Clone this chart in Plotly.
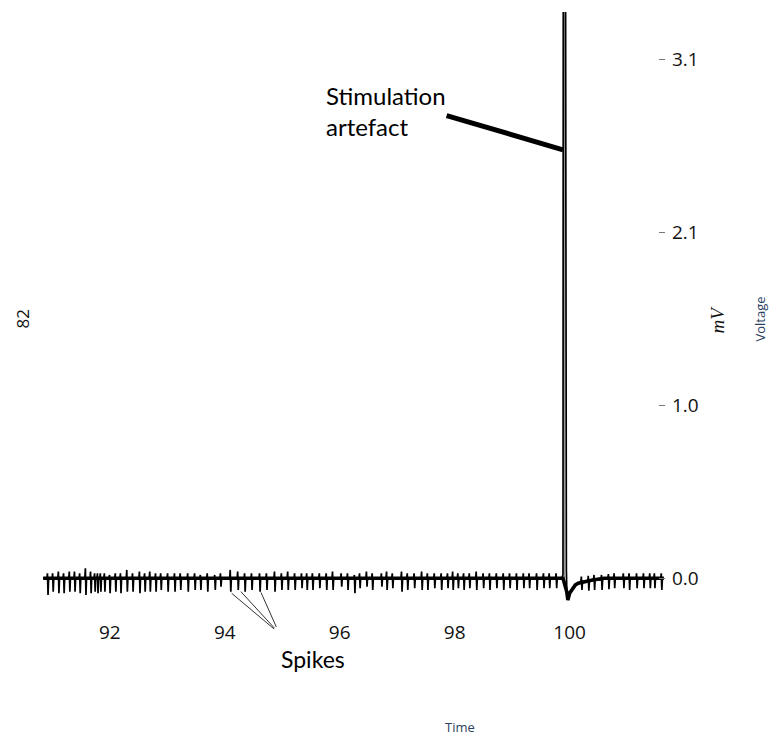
import plotly.graph_objects as go

# ---- data ----
spike_times = [
    90.92, 91.01, 91.11, 91.20, 91.30, 91.39, 91.48, 91.58, 91.67, 91.74,
    91.79, 91.84, 91.91, 92.00, 92.10, 92.19, 92.30, 92.40, 92.52, 92.61,
    92.70, 92.80, 92.89, 93.01, 93.13, 93.23, 93.36, 93.48, 93.58, 93.70,
    93.83, 93.93, 94.10, 94.23, 94.35,
    94.47, 94.61, 94.73, 94.87, 94.99, 95.10, 95.22, 95.34, 95.43, 95.53,
    95.65, 95.77, 95.88, 96.03, 96.14, 96.26, 96.35, 96.47, 96.57, 96.73,
    96.82, 96.92, 97.08, 97.18, 97.30, 97.43, 97.53, 97.65, 97.77, 97.88,
    97.97,
    98.06, 98.16, 98.26, 98.38, 98.50, 98.61, 98.73, 98.85, 98.96, 99.08,
    99.20, 99.30, 99.43, 99.55, 99.65, 99.77,
    100.21, 100.33, 100.43, 100.56, 100.68, 100.78, 100.94, 101.04, 101.17,
    101.29, 101.40, 101.48, 101.60,
]
spike_up = [
    0.03, 0.03, 0.04, 0.03, 0.04, 0.04, 0.03, 0.06, 0.04, 0.03,
    0.03, 0.03, 0.03, 0.02, 0.03, 0.03, 0.05, 0.03, 0.04, 0.03,
    0.04, 0.03, 0.03, 0.03, 0.03, 0.03, 0.03, 0.03, 0.02, 0.03,
    0.02, 0.03, 0.05, 0.04, 0.03,
    0.03, 0.03, 0.03, 0.04, 0.03, 0.04, 0.03, 0.03, 0.03, 0.03,
    0.03, 0.03, 0.04, 0.03, 0.03, 0.02, 0.03, 0.04, 0.03, 0.03,
    0.04, 0.03, 0.04, 0.03, 0.03, 0.04, 0.03, 0.03, 0.03, 0.03,
    0.04,
    0.03, 0.03, 0.03, 0.04, 0.03, 0.03, 0.03, 0.03, 0.03, 0.03,
    0.03, 0.03, 0.03, 0.03, 0.03, 0.03,
    0.03, 0.03, 0.03, 0.03, 0.03, 0.03, 0.03, 0.03, 0.03,
    0.03, 0.03, 0.03, 0.03,
]
spike_down = [
    0.10, 0.08, 0.09, 0.09, 0.08, 0.08, 0.09, 0.10, 0.09, 0.08,
    0.09, 0.08, 0.08, 0.09, 0.08, 0.09, 0.08, 0.08, 0.09, 0.08,
    0.08, 0.08, 0.07, 0.08, 0.08, 0.07, 0.08, 0.07, 0.07, 0.08,
    0.07, 0.05, 0.08, 0.07, 0.08,
    0.07, 0.08, 0.07, 0.08, 0.07, 0.07, 0.07, 0.06, 0.07, 0.07,
    0.06, 0.07, 0.07, 0.05, 0.07, 0.09, 0.06, 0.05, 0.07, 0.05,
    0.07, 0.06, 0.08, 0.07, 0.06, 0.07, 0.07, 0.06, 0.07, 0.06,
    0.07,
    0.06, 0.07, 0.06, 0.07, 0.06, 0.07, 0.06, 0.07, 0.06, 0.07,
    0.06, 0.06, 0.07, 0.06, 0.06, 0.06,
    0.05, 0.06, 0.06, 0.06, 0.06, 0.06, 0.06, 0.07, 0.06,
    0.06, 0.06, 0.06, 0.07,
]
spike_base = [0.0] * 82 + [
    -0.02, -0.015, -0.01, -0.01, -0.005, 0.0, 0.0, 0.0, 0.0,
    0.0, 0.0, 0.0, 0.0,
]

# stimulation artefact and recovery
stim_t = [99.86, 99.885, 99.89, 99.93, 99.934, 99.937, 99.940, 99.944,
          99.952, 99.97, 100.0, 100.05, 100.1, 100.15, 100.4, 100.6]
stim_v = [0.0, 0.02, 3.6, 3.6, 0.5, 0.15, 0.35, 0.05,
          -0.08, -0.13, -0.09, -0.06, -0.04, -0.03, -0.01, 0.0]
# faint grey core of the artefact (between its two edges)
core_t = [99.91, 99.91]
core_v = [0.0, 3.6]

# slow baseline (thick band under the spikes)
base_t = [90.84, 99.885, 99.95, 99.97, 100.0, 100.05, 100.1, 100.15, 100.25,
          100.4, 100.6, 101.64]
base_v = [0.0, 0.0, -0.08, -0.13, -0.09, -0.06, -0.04, -0.03, -0.02,
          -0.01, 0.0, 0.0]

trace_start, trace_end = 90.84, 101.64

y_tickvals = [0.0, 1.035, 2.07, 3.105]
y_ticktext = ["0.0", "1.0", "2.1", "3.1"]
x_tickvals = [92, 94, 96, 98, 100]

# ---- build the voltage trace ----
pts = [(trace_start, 0.0), (trace_end, 0.0)]
for t, u, d, b in zip(spike_times, spike_up, spike_down, spike_base):
    pts += [(t - 0.015, b), (t - 0.005, b + u), (t + 0.005, b - d), (t + 0.015, b)]
pts += list(zip(stim_t, stim_v))
pts.sort(key=lambda p: p[0])
xs = [p[0] for p in pts]
ys = [p[1] for p in pts]

fig = go.Figure()
fig.add_trace(go.Scatter(x=core_t, y=core_v, mode="lines",
                         line=dict(color="#9a9a9a", width=1.5),
                         hoverinfo="skip", showlegend=False))
fig.add_trace(go.Scatter(x=base_t, y=base_v, mode="lines",
                         line=dict(color="black", width=3.6),
                         hoverinfo="skip", showlegend=False))
fig.add_trace(go.Scatter(x=xs, y=ys, mode="lines",
                         line=dict(color="black", width=1.7),
                         hoverinfo="skip", showlegend=False))

fig.update_layout(
    width=769, height=737,
    margin=dict(l=42, r=104, t=12, b=122),
    paper_bgcolor="white", plot_bgcolor="white",
    showlegend=False,
    xaxis=dict(range=[90.82, 101.66], tickvals=x_tickvals,
               showgrid=False, zeroline=False, showline=False, ticks="",
               tickfont=dict(family="Open Sans", size=19, color="#111"),
               ticklabelstandoff=4),
    yaxis=dict(side="right", range=[-0.22, 3.39], tickvals=y_tickvals,
               ticktext=y_ticktext, showgrid=False, zeroline=False,
               showline=False, ticks="inside", ticklen=6, tickwidth=1,
               tickcolor="#777",
               tickfont=dict(family="Open Sans", size=19, color="#111"),
               ticklabelstandoff=6),
)

# stimulation artefact label + pointer
fig.add_annotation(x=95.72, y=2.80, xref="x", yref="y",
                   text="Stimulation<br>artefact", showarrow=False,
                   xanchor="left", yanchor="middle", align="left",
                   font=dict(family="Lato", size=24, color="black"))
fig.add_shape(type="line", xref="x", yref="y",
              x0=97.86, y0=2.77, x1=99.885, y1=2.565,
              line=dict(color="black", width=5))

# spikes label + pointers
fig.add_annotation(x=95.53, y=-0.073, xref="x", yref="paper",
                   text="Spikes", showarrow=False,
                   xanchor="center", yanchor="middle",
                   font=dict(family="Lato", size=23, color="black"))
for sx, sy, ax, ay in [(94.12, -0.09, 44, 37), (94.28, -0.08, 35, 38),
                       (94.63, -0.085, 16, 36)]:
    fig.add_annotation(x=sx, y=sy, xref="x", yref="y", text="",
                       showarrow=True, arrowhead=0, arrowwidth=1,
                       arrowcolor="#333", ax=ax, ay=ay, standoff=0)

# side labels
fig.add_annotation(xref="paper", yref="paper", x=-0.032, y=0.49,
                   xanchor="center", yanchor="middle",
                   text="82", showarrow=False, textangle=-90,
                   font=dict(family="Open Sans", size=17, color="#111"))
fig.add_annotation(xref="paper", yref="paper", x=1.085, y=0.49,
                   xanchor="center", yanchor="middle",
                   text="<i>mV</i>", showarrow=False, textangle=-90,
                   font=dict(family="Liberation Serif", size=19, color="#111"))
fig.add_annotation(xref="paper", yref="paper", x=1.1525, y=0.49,
                   xanchor="center", yanchor="middle",
                   text="Voltage", showarrow=False, textangle=-90,
                   font=dict(family="Open Sans", size=13, color="#2a3f5f"))
fig.add_annotation(xref="paper", yref="paper", x=0.671, y=-0.186,
                   xanchor="center", yanchor="middle",
                   text="Time", showarrow=False,
                   font=dict(family="Open Sans", size=13, color="#2a3f5f"))

fig.write_html("out.html")
